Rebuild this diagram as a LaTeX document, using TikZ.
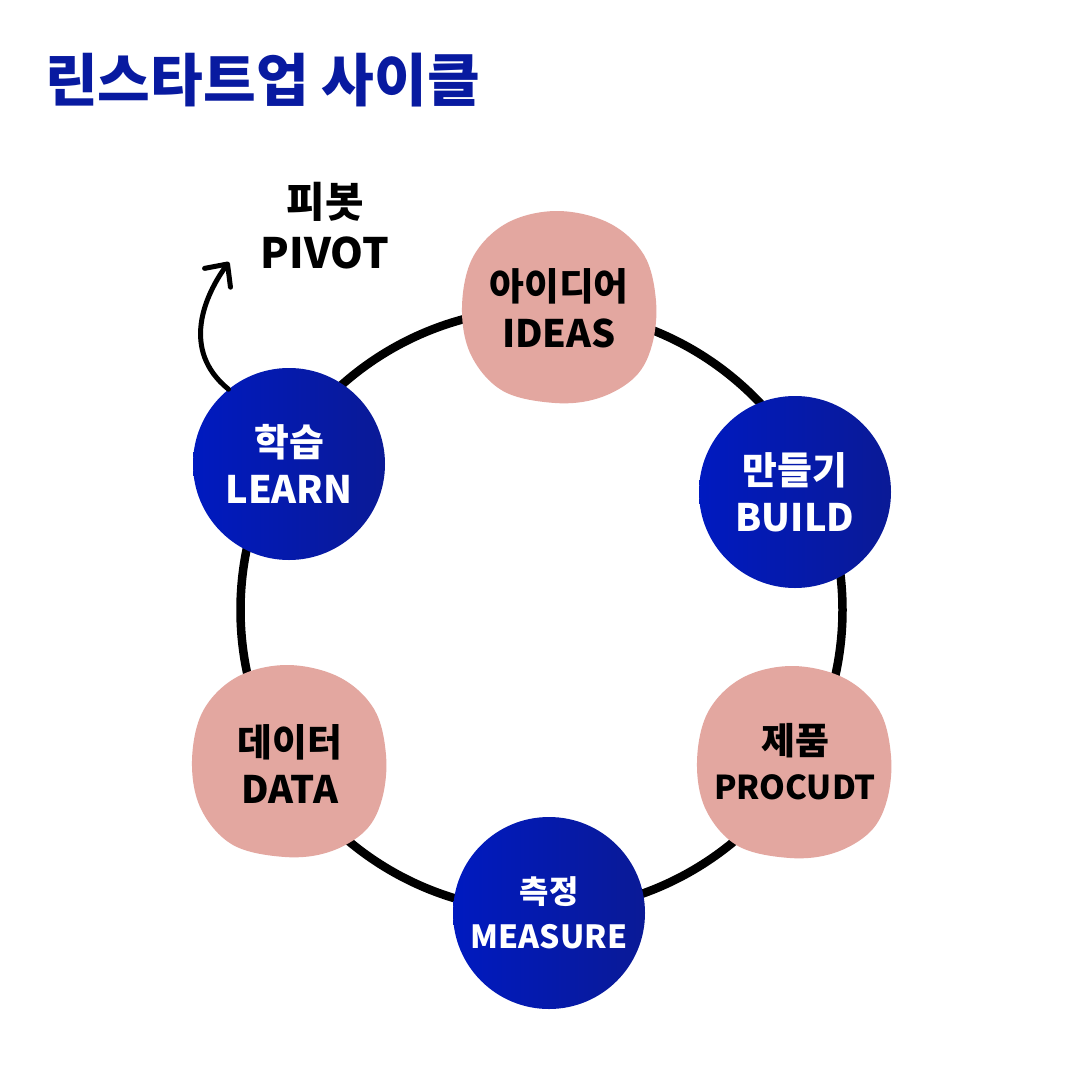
\documentclass[tikz,border=0pt]{standalone}
\usepackage{fontspec}
\newfontfamily\kr{Noto Sans CJK KR}
\usetikzlibrary{arrows.meta}
\definecolor{titleblue}{RGB}{8,26,160}
\definecolor{bluel}{RGB}{0,26,192}
\definecolor{bluer}{RGB}{10,26,150}
\definecolor{pinkc}{RGB}{227,167,160}
\tikzset{
  bluecirc/.style={circle, minimum size=192bp, inner sep=0pt, left color=bluel, right color=bluer, text=white, align=center},
  blobtext/.style={circle, minimum size=192bp, inner sep=0pt, text=black, align=center},
  blob/.pic={\fill[pinkc] plot[smooth cycle, tension=0.6] coordinates {(-2,-96) (50,-84) (85,-52) (97,-6) (93,38) (76,70) (40,91) (-4,96) (-56,84) (-88,48) (-97,0) (-86,-50) (-52,-84)};},
  ring/.style={line width=8.5bp, black},
  pivotarrow/.style={line width=5bp, line cap=round, line join=round, -{Straight Barb[length=17bp, width=32bp, line cap=round, line join=round]}}
}
\newcommand{\txtbig}{\kr\bfseries\fontsize{38}{47}\selectfont}
\newcommand{\txtmid}{\kr\bfseries\fontsize{38}{47}\selectfont}
\newcommand{\txtsmall}{\kr\bfseries\fontsize{32}{45}\selectfont}
\begin{document}
\begin{tikzpicture}[x=1bp, y=-1bp]
\useasboundingbox (0,0) rectangle (1080,1080);
\fill[white] (0,0) rectangle (1080,1080);
% ring
\draw[ring] (541.5,610) circle[radius=301];
% title
\node[anchor=west, inner sep=0pt, text=titleblue, font=\kr\bfseries\fontsize{57.5}{64}\selectfont] (title) at (45,80) {린스타트업 사이클};
% pink blobs
\pic at (559,307) {blob};
\pic at (794,762) {blob};
\pic at (289,761) {blob};
\node[blobtext, font=\txtbig] (ideas) at (559,308) {아이디어\\IDEAS};
\node[blobtext, font=\kr\bfseries\fontsize{33}{45}\selectfont] (product) at (795,762) {{\fontsize{37}{45}\selectfont 제품}\\PROCUDT};
\node[blobtext, font=\txtbig] (data) at (290,764) {데이터\\DATA};
% blue circles
\node[bluecirc, font=\txtmid] (build) at (795,492) {만들기\\BUILD};
\node[bluecirc, font=\txtsmall] (measure) at (549,913) {측정\\MEASURE};
\node[bluecirc, font=\txtmid] (learn) at (289,464) {학습\\LEARN};
% pivot
\node[align=center, inner sep=0pt, font=\kr\bfseries\fontsize{42}{51}\selectfont] (pivot) at (325,226) {피봇\\PIVOT};
\coordinate (pivottip) at (229,262);
\draw[pivotarrow] (learn.129) .. controls (180,350) and (205,295) .. (pivottip);
\end{tikzpicture}
\end{document}
